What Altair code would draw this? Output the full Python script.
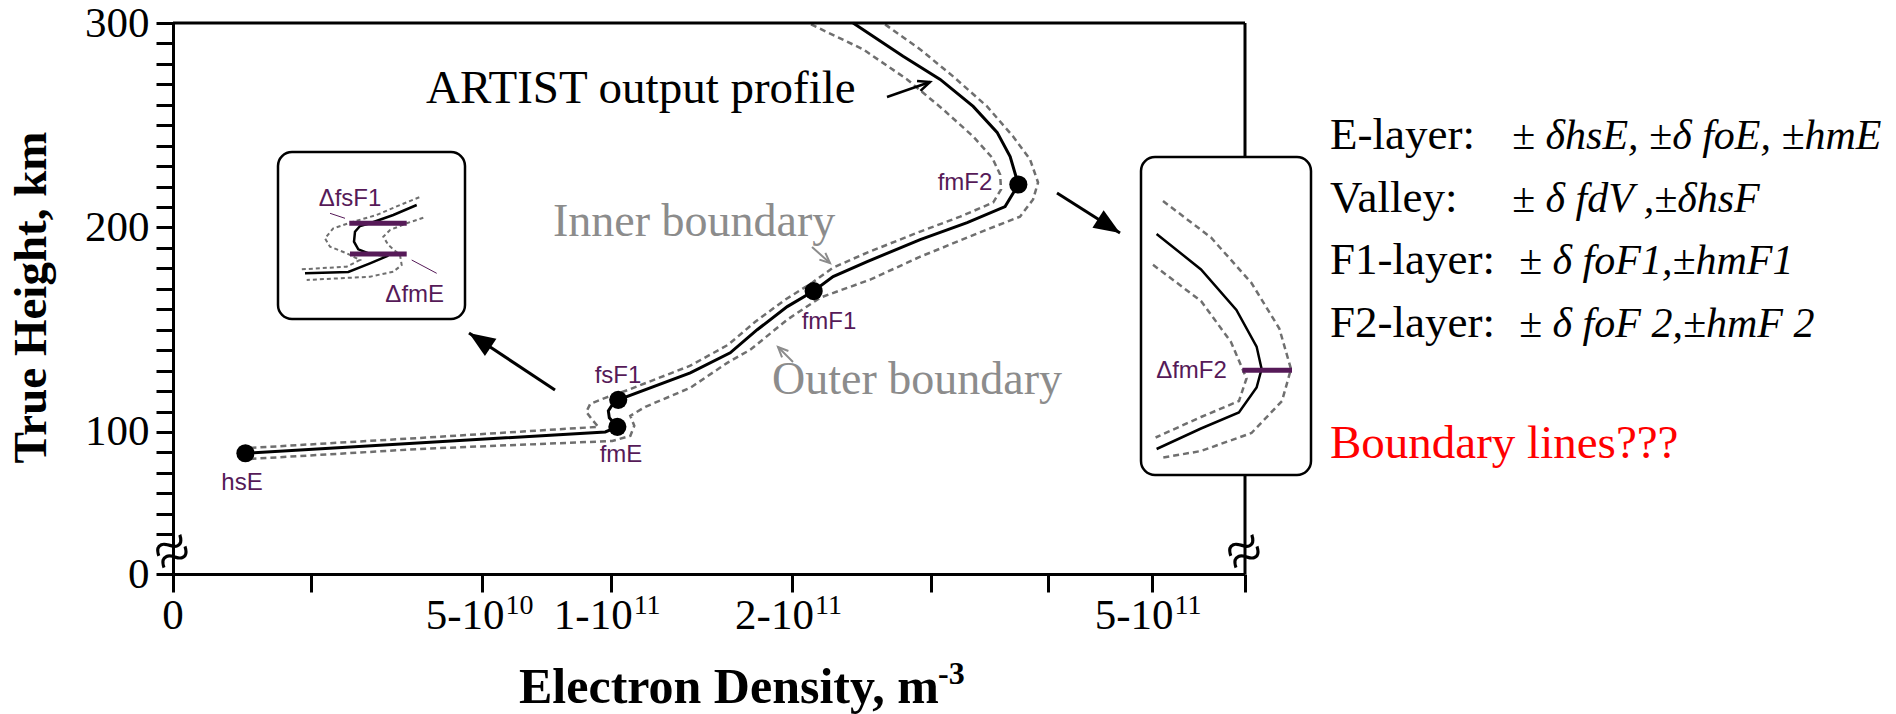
import math
import altair as alt
import pandas as pd

SERIF = "Liberation Serif"
SANS = "Liberation Sans"
PURPLE = "#561a58"
DASH_GREY = "#6f6f6f"
TEXT_GREY = "#8c8c8c"

# ---------------- profile data: density in 1e11 m^-3, true height in km ----------------
main_N = [0.0274, 0.9757, 1.031, 0.994, 0.9895, 1.0076, 1.035, 1.397, 1.621, 1.782,
          1.970, 2.143, 2.275, 2.516, 2.915, 3.293, 3.615, 3.731, 3.659, 3.546,
          3.343, 3.073, 2.783, 2.415]
main_h = [89.6, 100.0, 102.5, 106.9, 110.3, 113.3, 115.7, 128.9, 138.7, 150.0,
          161.3, 168.9, 176.0, 183.3, 194.1, 202.4, 210.2, 221.0, 234.7, 246.5,
          259.2, 272.4, 283.7, 300.0]

inner_N = [0.0313, 0.3195, 0.9444, 0.9180, 0.8920, 0.9093, 0.9757, 1.0825, 1.397, 1.610,
           1.770, 1.957, 2.133, 2.275, 2.516, 2.915, 3.235, 3.512, 3.580, 3.572,
           3.503, 3.343, 3.097, 2.814, 2.487, 2.106]
inner_h = [92.2, 97.1, 102.5, 105.9, 109.8, 113.8, 116.7, 120.6, 132.4, 142.7,
           153.9, 164.7, 173.0, 180.4, 187.7, 198.0, 205.3, 212.2, 218.6, 225.9,
           234.2, 244.5, 257.7, 272.4, 287.1, 300.0]

outer_N = [0.0313, 0.3195, 1.0076, 1.092, 1.111, 1.092, 1.165, 1.397, 1.604, 1.740,
           1.970, 2.187, 2.538, 2.915, 3.460, 3.746, 3.862, 3.907, 3.835, 3.685,
           3.460, 3.177, 2.915, 2.633]
outer_h = [86.8, 91.7, 95.6, 98.1, 103.0, 107.9, 112.3, 121.6, 133.8, 140.2,
           154.9, 165.7, 174.5, 185.7, 199.0, 205.3, 213.7, 222.0, 233.3, 244.5,
           259.2, 273.9, 287.1, 300.0]

pt_names = ["hsE", "fmE", "fsF1", "fmF1", "fmF2"]
pt_N = [0.0274, 1.031, 1.035, 2.143, 3.731]
pt_h = [89.6, 102.5, 115.7, 168.9, 221.0]

x_tick_values = [0, 0.1, 0.5, 1, 2, 3, 4, 5, 6]
x_label_values = [0.5, 1, 2, 5]
x_label_base = ["5-10", "1-10", "2-10", "5-10"]
x_label_sup = ["10", "11", "11", "11"]
y_tick_values = [0] + list(range(50, 301, 10))
y_label_values = [0, 100, 200, 300]

# ---------------- annotation layout (figure pixel frame) ----------------
lab_px = [242, 621, 618, 829, 965]
lab_py = [483, 455, 376, 322, 183]

frame_x1 = [173, 1245]
frame_y1 = [23, 23]
frame_x2 = [1245, 1245]
frame_y2 = [23, 574]

arrows_filled = [((555, 390), (469, 333)), ((1057, 193), (1120, 233))]
arrows_open_black = [((887, 97), (930, 82))]
arrows_open_grey = [((812, 247), (830, 263)), ((793, 362), (778, 347))]

boxes_x1 = [278, 1141]
boxes_y1 = [152, 157]
boxes_x2 = [465, 1311]
boxes_y2 = [319, 475]

# left inset (zoom of the E-F1 transition)
ls_px = [305, 348.3, 370, 388.3, 370, 358.3, 354, 355, 360, 370, 393.3, 416.7]
ls_py = [273.3, 272, 263.3, 255.7, 254, 249.3, 241.7, 231.7, 226, 223.3, 215, 205]
li_px = [419.3, 400, 376.7, 353.3, 333.3, 325, 330, 346.7, 360, 346.7, 301.7]
li_py = [197.3, 205, 215, 221.7, 228.3, 238.3, 246.7, 253.3, 260, 266.7, 269.3]
lo_px = [423.3, 406.7, 390, 383.3, 388.3, 400, 401.7, 393.3, 370, 306.7]
lo_py = [217.7, 223.3, 230, 236.7, 245, 255, 265, 271.7, 276.7, 280]
# right inset (zoom of the F2 peak)
rs_px = [1156.6, 1201, 1236.4, 1256.6, 1261.6, 1256.6, 1238.9, 1201, 1156.6]
rs_py = [234, 269.4, 310, 346.6, 369, 387.5, 412.5, 428.5, 449]
ro_px = [1163, 1211, 1251.5, 1279.3, 1291, 1282, 1251.5, 1201, 1160.6]
ro_py = [201, 237.5, 283, 328.5, 369, 401, 433, 451, 458]
ri_px = [1153, 1201, 1231, 1246.5, 1239, 1201, 1155.6]
ri_py = [264.8, 301, 342, 378.5, 401, 417, 437.5]

bar_x1 = [349.3, 350, 1242.4]
bar_x2 = [406.7, 406.7, 1292]
bar_y = [223.3, 254, 370.3]
leader_x1 = [330, 411.7]
leader_y1 = [213.3, 260]
leader_x2 = [345, 436.7]
leader_y2 = [218.3, 273.3]
delta_text = ["ΔfsF1", "ΔfmE", "ΔfmF2"]
delta_px = [350, 414.7, 1191.5]
delta_py = [199, 295, 371]

rt_labels = ["E-layer:", "Valley:", "F1-layer:", "F2-layer:"]
rt_formulas = ["± δhsE, ±δ foE, ±hmE", "± δ fdV ,±δhsF", "± δ foF1,±hmF1", "± δ foF 2,±hmF 2"]
rt_label_x = [1330, 1330, 1330, 1330]
rt_formula_x = [1512, 1512, 1519, 1519]
rt_y = [149, 211.6, 274, 336.6]

break_px = [173, 1245]
break_py = [553, 553]

# ---------------- scales & axes ----------------
y_expr = "indexof(" + str(y_label_values) + ", datum.value) >= 0 ? datum.label : ''"

x_axis = alt.Axis(values=x_tick_values, labels=False, tickSize=18, tickWidth=3, tickColor="black",
                  domainColor="black", domainWidth=3, grid=False, title=None)
y_axis = alt.Axis(values=y_tick_values, labelExpr=y_expr, labelFlush=False, labelOverlap=False,
                  labelFont=SERIF, labelFontSize=43, labelColor="black", labelBaseline="middle",
                  labelPadding=7, tickSize=17, tickWidth=3, tickColor="black",
                  domainColor="black", domainWidth=3, grid=False,
                  title="True Height, km", titleFont=SERIF, titleFontSize=47,
                  titleFontWeight="bold", titleColor="black", titleAngle=270,
                  titleX=-128, titleY=274, titleAlign="center", titleBaseline="alphabetic")

xs = alt.Scale(type="sqrt", domain=[0, 6], nice=False, zero=False)
ys = alt.Scale(domain=[0, 50, 300], range=[551, 511.2, 0], nice=False, zero=False)
X = alt.X("N:Q", scale=xs, axis=x_axis)
Y = alt.Y("h:Q", scale=ys, axis=y_axis)

OX = alt.Scale(domain=[173, 1245], nice=False, zero=False)
OY = alt.Scale(domain=[23, 574], reverse=True, nice=False, zero=False)


def ox(f="px"):
    return alt.X(f"{f}:Q", scale=OX, axis=None)


def oy(f="py"):
    return alt.Y(f"{f}:Q", scale=OY, axis=None)


# ---------------- main data layers ----------------
main_df = pd.DataFrame({"N": main_N, "h": main_h, "i": range(len(main_N))})
bnd_df = pd.concat([
    pd.DataFrame({"N": inner_N, "h": inner_h, "i": range(len(inner_N)), "side": "inner"}),
    pd.DataFrame({"N": outer_N, "h": outer_h, "i": range(len(outer_N)), "side": "outer"}),
])
pts_df = pd.DataFrame({"N": pt_N, "h": pt_h, "name": pt_names})
xlab_df = pd.DataFrame({"N": x_label_values, "base": x_label_base, "sup": x_label_sup})
zero_df = pd.DataFrame({"N": [0], "base": ["0"]})

bounds = alt.Chart(bnd_df).mark_line(color=DASH_GREY, strokeWidth=2.5, strokeDash=[6, 4]).encode(
    x=X, y=Y, detail="side:N", order="i:Q")
line = alt.Chart(main_df).mark_line(color="black", strokeWidth=3).encode(x=X, y=Y, order="i:Q")
points = alt.Chart(pts_df).mark_circle(size=330, color="black", opacity=1).encode(x=X, y=Y)
# x tick labels: mantissa part + raised exponent, centred as a whole under each tick
xl_zero = alt.Chart(zero_df).mark_text(font=SERIF, fontSize=43, color="black", align="center",
                                       baseline="alphabetic").encode(
    x=X, y=alt.value(606), text="base:N")
xl_base = alt.Chart(xlab_df).mark_text(font=SERIF, fontSize=43, color="black", align="right",
                                       baseline="alphabetic", dx=22).encode(
    x=X, y=alt.value(606), text="base:N")
xl_sup = alt.Chart(xlab_df).mark_text(font=SERIF, fontSize=28, color="black", align="left",
                                      baseline="alphabetic", dx=23).encode(
    x=X, y=alt.value(591), text="sup:N")
main = alt.layer(bounds, line, points, xl_zero, xl_base, xl_sup)

# ---------------- overlay layers ----------------
layers = []


def seg_layer(x1, y1, x2, y2, color, width, dash=None):
    df = pd.DataFrame({"px": x1, "py": y1, "px2": x2, "py2": y2})
    kw = dict(color=color, strokeWidth=width)
    if dash:
        kw["strokeDash"] = dash
    return alt.Chart(df).mark_rule(**kw).encode(
        x=ox(), y=oy(), x2=alt.X2("px2:Q"), y2=alt.Y2("py2:Q"))


def path_layer(xs_, ys_, color, width, dash=None):
    df = pd.DataFrame({"px": xs_, "py": ys_, "i": range(len(xs_))})
    kw = dict(color=color, strokeWidth=width)
    if dash:
        kw["strokeDash"] = dash
    return alt.Chart(df).mark_line(**kw).encode(x=ox(), y=oy(), order="i:Q")


def text_layer(texts, xs_, ys_, **kw):
    df = pd.DataFrame({"px": xs_, "py": ys_, "t": texts})
    return alt.Chart(df).mark_text(**kw).encode(x=ox(), y=oy(), text="t:N")


def head_df(arrows, back):
    rows = []
    for (tx, ty), (hx, hy) in arrows:
        dx, dy = hx - tx, hy - ty
        L = math.hypot(dx, dy)
        ux, uy = dx / L, dy / L
        ang = math.degrees(math.atan2(ux, -uy)) % 360
        rows.append({"px": hx - ux * back, "py": hy - uy * back, "ang": ang})
    return pd.DataFrame(rows)


# frame (top and right)
layers.append(seg_layer(frame_x1, frame_y1, frame_x2, frame_y2, "black", 3))

# x-axis title with superscript exponent
layers.append(text_layer(["Electron Density, m"], [519], [703], font=SERIF, fontSize=50,
                         fontWeight="bold", color="black", align="left", baseline="alphabetic"))
layers.append(text_layer(["-3"], [938], [684], font=SERIF, fontSize=32,
                         fontWeight="bold", color="black", align="left", baseline="alphabetic"))

# point labels
layers.append(text_layer(pt_names, lab_px, lab_py, font=SANS, fontSize=24, color=PURPLE,
                         align="center", baseline="middle"))

# annotation texts
layers.append(text_layer(["ARTIST output profile"], [426], [103], font=SERIF, fontSize=47,
                         color="black", align="left", baseline="alphabetic"))
layers.append(text_layer(["Inner boundary", "Outer boundary"], [553, 772], [236, 394], font=SERIF,
                         fontSize=46, color=TEXT_GREY, align="left", baseline="alphabetic"))

# arrows
for arrows, color, width in [(arrows_filled, "black", 3), (arrows_open_black, "black", 2.5),
                             (arrows_open_grey, TEXT_GREY, 2)]:
    layers.append(seg_layer([a[0][0] for a in arrows], [a[0][1] for a in arrows],
                            [a[1][0] for a in arrows], [a[1][1] for a in arrows], color, width))
layers.append(alt.Chart(head_df(arrows_filled, 13)).mark_point(
    shape="M0,-1L-0.8,1L0.8,1Z", size=676, filled=True, color="black", opacity=1).encode(
    x=ox(), y=oy(), angle=alt.Angle("ang:Q", scale=None)))
layers.append(alt.Chart(head_df(arrows_open_black, 7)).mark_point(
    shape="M-0.75,0.7L0,-1L0.75,0.7", size=196, filled=False, color="black", strokeWidth=2.5,
    opacity=1).encode(x=ox(), y=oy(), angle=alt.Angle("ang:Q", scale=None)))
layers.append(alt.Chart(head_df(arrows_open_grey, 6)).mark_point(
    shape="M-0.75,0.7L0,-1L0.75,0.7", size=144, filled=False, color=TEXT_GREY, strokeWidth=2,
    opacity=1).encode(x=ox(), y=oy(), angle=alt.Angle("ang:Q", scale=None)))

# inset boxes
box_df = pd.DataFrame({"px": boxes_x1, "py": boxes_y1, "px2": boxes_x2, "py2": boxes_y2})
layers.append(alt.Chart(box_df).mark_rect(cornerRadius=14, fill="white", stroke="black",
                                          strokeWidth=2.5).encode(
    x=ox(), y=oy(), x2=alt.X2("px2:Q"), y2=alt.Y2("py2:Q")))

# inset contents
layers.append(path_layer(li_px, li_py, DASH_GREY, 2, [4, 3]))
layers.append(path_layer(lo_px, lo_py, DASH_GREY, 2, [4, 3]))
layers.append(path_layer(ls_px, ls_py, "black", 2.5))
layers.append(path_layer(ri_px, ri_py, DASH_GREY, 2.5, [6, 4]))
layers.append(path_layer(ro_px, ro_py, DASH_GREY, 2.5, [6, 4]))
layers.append(path_layer(rs_px, rs_py, "black", 2.5))
layers.append(seg_layer(leader_x1, leader_y1, leader_x2, leader_y2, PURPLE, 1))
bar_df = pd.DataFrame({"px": bar_x1, "px2": bar_x2, "py": bar_y})
layers.append(alt.Chart(bar_df).mark_rule(color=PURPLE, strokeWidth=5).encode(
    x=ox(), x2=alt.X2("px2:Q"), y=oy()))
layers.append(text_layer(delta_text, delta_px, delta_py, font=SANS, fontSize=24, color=PURPLE,
                         align="center", baseline="middle"))

# right-hand text block
layers.append(text_layer(rt_labels, rt_label_x, rt_y, font=SERIF, fontSize=45, color="black",
                         align="left", baseline="alphabetic"))
layers.append(text_layer(rt_formulas, rt_formula_x, rt_y, font=SERIF, fontSize=42, color="black",
                         fontStyle="italic", align="left", baseline="alphabetic"))
layers.append(text_layer(["Boundary lines???"], [1330], [458], font=SERIF, fontSize=47,
                         color="#ff0000", align="left", baseline="alphabetic"))

# axis break marks
layers.append(text_layer(["≈", "≈"], break_px, break_py, font=SERIF, fontSize=64, color="black",
                         align="center", baseline="middle", angle=336))

overlay = alt.layer(*layers)

chart = alt.layer(main, overlay).resolve_scale(x="independent", y="independent").properties(
    width=1072, height=551,
    autosize=alt.AutoSizeParams(type="none"),
    padding={"left": 173, "top": 23, "right": 651, "bottom": 140},
    background="white",
).configure_view(stroke=None)

chart.save("out.html", embed_options={"renderer": "svg", "actions": False})
